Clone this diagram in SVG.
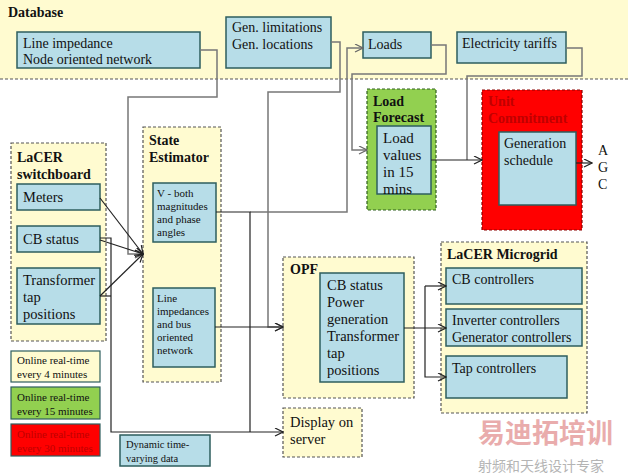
<svg xmlns="http://www.w3.org/2000/svg" width="628" height="474" viewBox="0 0 628 474">
<defs>
<style>
text{font-family:"Liberation Serif","Times New Roman",serif;fill:#111;}
.t{font-size:14px;}
.tl{font-size:14.5px;}
.ts{font-size:11px;}
.lg{font-size:11px;}
.b{font-weight:bold;font-size:14px;}
.box{fill:#B7DDE8;stroke:#2E5E5E;stroke-width:1.5;}
.grp{fill:#FFFBD0;stroke:#555;stroke-width:1.2;stroke-dasharray:3,2;}
.c{fill:none;stroke:#222;stroke-width:1.2;}
.cg{fill:none;stroke:#777;stroke-width:1.5;}
</style>
<marker id="a" markerWidth="10" markerHeight="10" refX="9" refY="4" orient="auto" markerUnits="userSpaceOnUse">
<path d="M1,0 L9,4 L1,8" fill="none" stroke="#222" stroke-width="1.2"/>
</marker>
<marker id="ag" markerWidth="10" markerHeight="10" refX="9" refY="4" orient="auto" markerUnits="userSpaceOnUse">
<path d="M1,0 L9,4 L1,8" fill="none" stroke="#666" stroke-width="1.2"/>
</marker>
</defs>
<rect width="628" height="474" fill="#fff"/>

<g id="database">
<rect x="0" y="0" width="628" height="79" fill="#FFFBD0"/>
<line x1="0" y1="79" x2="628" y2="79" stroke="#555" stroke-width="1.2" stroke-dasharray="3,2"/>
<text x="8" y="17" class="b">Database</text>
</g>

<g id="line-impedance">
<rect x="17" y="32" width="183" height="36" class="box"/>
<text x="23" y="48" class="t">Line impedance</text>
<text x="23" y="64" class="t">Node oriented network</text>
</g>
<g id="gen">
<rect x="226" y="17" width="105" height="51" class="box"/>
<text x="232" y="32" class="t">Gen. limitations</text>
<text x="232" y="49" class="t">Gen. locations</text>
</g>
<g id="loads">
<rect x="363" y="32" width="68" height="26" class="box"/>
<text x="368" y="49" class="t">Loads</text>
</g>
<g id="tariffs">
<rect x="457" y="32" width="109" height="31" class="box"/>
<text x="462" y="48" class="t">Electricity tariffs</text>
</g>

<g id="switchboard">
<rect x="11" y="143" width="95" height="198" class="grp"/>
<text x="17" y="162" class="b">LaCER</text>
<text x="17" y="179" class="b">switchboard</text>
</g>
<g id="meters">
<rect x="17" y="184" width="83" height="26" class="box"/>
<text x="23" y="202" class="tl">Meters</text>
</g>
<g id="cb-status">
<rect x="17" y="226" width="83" height="26" class="box"/>
<text x="23" y="244" class="tl">CB status</text>
</g>
<g id="transformer">
<rect x="17" y="268" width="83" height="56" class="box"/>
<text x="23" y="285" class="tl">Transformer</text>
<text x="23" y="302" class="tl">tap</text>
<text x="23" y="319" class="tl">positions</text>
</g>

<g id="state-estimator">
<rect x="143" y="127" width="78" height="255" class="grp"/>
<text x="149" y="145" class="b">State</text>
<text x="149" y="162" class="b">Estimator</text>
</g>
<g id="v-both">
<rect x="153" y="183" width="63" height="59" class="box"/>
<text x="157" y="197" class="ts">V -  both</text>
<text x="157" y="210" class="ts">magnitudes</text>
<text x="157" y="223" class="ts">and phase</text>
<text x="157" y="236" class="ts">angles</text>
</g>
<g id="line-impedances">
<rect x="153" y="288" width="62" height="79" class="box"/>
<text x="157" y="302" class="ts">Line</text>
<text x="157" y="315" class="ts">impedances</text>
<text x="157" y="328" class="ts"> and bus</text>
<text x="157" y="341" class="ts">oriented</text>
<text x="157" y="354" class="ts">network</text>
</g>

<g id="legend-yellow">
<rect x="11" y="351" width="89" height="31" fill="#FFFBD0" stroke="#2E5E5E" stroke-width="1.2"/>
<text x="17" y="364" class="lg">Online  real-time</text>
<text x="17" y="378" class="lg">every 4 minutes</text>
</g>
<g id="legend-green">
<rect x="11" y="387" width="89" height="32" fill="#92D050" stroke="#2E5E5E" stroke-width="1.2"/>
<text x="17" y="401" class="lg">Online real-time</text>
<text x="17" y="415" class="lg">every 15 minutes</text>
</g>
<g id="legend-red">
<rect x="11" y="424" width="89" height="32" fill="#FF0000" stroke="#2E5E5E" stroke-width="1.2"/>
<text x="17" y="438" class="lg" style="fill:#C00000">Online real-time</text>
<text x="17" y="452" class="lg" style="fill:#C00000">every  30 minutes</text>
</g>
<g id="dynamic">
<rect x="120" y="435" width="90" height="31" class="box"/>
<text x="126" y="448" style="font-size:10.5px">Dynamic time-</text>
<text x="126" y="462" style="font-size:10.5px">varying data</text>
</g>

<g id="load-forecast">
<rect x="367" y="89" width="69" height="121" fill="#92D050" stroke="#2F5F1F" stroke-width="1.2" stroke-dasharray="3,2"/>
<text x="373" y="106" class="b">Load</text>
<text x="373" y="122" class="b">Forecast</text>
</g>
<g id="load-values">
<rect x="377" y="126" width="54" height="68" class="box"/>
<text x="383" y="143" style="font-size:15px">Load</text>
<text x="383" y="160" style="font-size:15px">values</text>
<text x="383" y="177" style="font-size:15px">in 15</text>
<text x="383" y="194" style="font-size:15px">mins</text>
</g>

<g id="unit-commitment">
<rect x="482" y="90" width="100" height="140" fill="#FF0000" stroke="#8B0000" stroke-width="1.2" stroke-dasharray="3,2"/>
<text x="488" y="106" class="b" style="fill:#C00000">Unit</text>
<text x="488" y="123" class="b" style="fill:#C00000">Commitment</text>
</g>
<g id="generation-schedule">
<rect x="499" y="132" width="77" height="73" class="box"/>
<text x="504" y="148" class="t">Generation</text>
<text x="504" y="165" class="t">schedule</text>
</g>
<g id="agc">
<text x="598" y="155" class="t">A</text>
<text x="598" y="172" class="t">G</text>
<text x="598" y="189" class="t">C</text>
</g>

<g id="opf">
<rect x="283" y="257" width="131" height="141" class="grp"/>
<text x="290" y="274" class="b">OPF</text>
</g>
<g id="opf-values">
<rect x="320" y="273" width="84" height="109" class="box"/>
<text x="327" y="290" class="tl">CB status</text>
<text x="327" y="307" class="tl">Power</text>
<text x="327" y="324" class="tl">generation</text>
<text x="327" y="341" class="tl">Transformer</text>
<text x="327" y="358" class="tl">tap</text>
<text x="327" y="375" class="tl">positions</text>
</g>
<g id="display">
<rect x="283" y="408" width="79" height="49" class="grp"/>
<text x="290" y="427" class="tl">Display on</text>
<text x="290" y="444" class="tl">server</text>
</g>

<g id="microgrid">
<rect x="441" y="242" width="146" height="171" class="grp"/>
<text x="447" y="259" class="b">LaCER Microgrid</text>
</g>
<g id="cb-controllers">
<rect x="446" y="268" width="136" height="36" class="box"/>
<text x="452" y="284" class="t">CB controllers</text>
</g>
<g id="inv-controllers">
<rect x="446" y="309" width="136" height="37" class="box"/>
<text x="452" y="325" class="t">Inverter controllers</text>
<text x="452" y="342" class="t">Generator controllers</text>
</g>
<g id="tap-controllers">
<rect x="446" y="356" width="121" height="42" class="box"/>
<text x="452" y="373" class="t">Tap controllers</text>
</g>

<g id="connectors">
<polyline class="cg" points="200,50 217,50 217,97 128,97 128,254 143,254" marker-end="url(#ag)"/>
<polyline class="cg" points="331,42 340,42 340,92 268,92 268,327 283,327" marker-end="url(#ag)"/>
<polyline class="cg" points="250,212 347,212 347,48 363,48" marker-end="url(#ag)"/>
<polyline class="cg" points="431,45 446,45 446,74 352,74 352,150 367,150" marker-end="url(#ag)"/>
<polyline class="cg" points="566,48 582,48 582,76 467,76 467,160"/>
<polyline class="c" points="431,160 482,160" marker-end="url(#a)"/>
<polyline class="c" points="576,163 592,163" marker-end="url(#a)"/>
<line class="c" x1="100" y1="198" x2="143" y2="254" marker-end="url(#a)"/>
<line class="c" x1="100" y1="240" x2="143" y2="254" marker-end="url(#a)"/>
<line class="c" x1="100" y1="296" x2="143" y2="254" marker-end="url(#a)"/>
<polyline class="c" points="100,238 111,238 111,432 283,432" marker-end="url(#a)"/>
<polyline class="c" points="100,296 111,296"/>
<polyline class="c" points="216,212 250,212 250,432"/>
<polyline class="c" points="215,327 283,327" marker-end="url(#a)"/>
<polyline class="c" points="404,328 446,328" marker-end="url(#a)"/>
<polyline class="c" points="425,286 425,377 446,377" marker-end="url(#a)"/>
<polyline class="c" points="425,286 446,286" marker-end="url(#a)"/>
</g>

<g id="watermark" opacity="0.55">
<text x="478" y="443" style="font-family:'Noto Sans CJK SC',sans-serif;font-size:27px;font-weight:bold;fill:#D86A6A">易迪拓培训</text>
<text x="478" y="471" style="font-family:'Noto Sans CJK SC',sans-serif;font-size:14px;fill:#777">射频和天线设计专家</text>
</g>
</svg>
